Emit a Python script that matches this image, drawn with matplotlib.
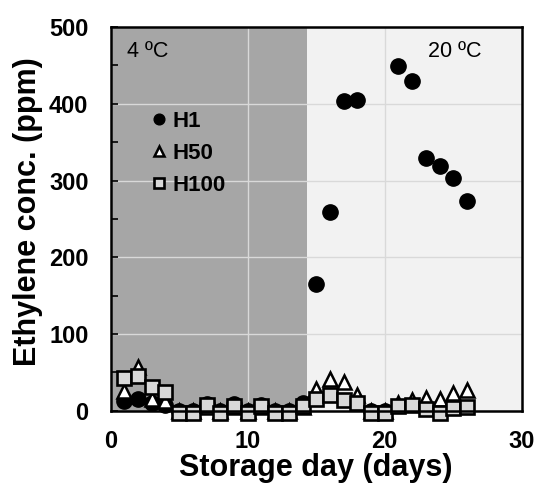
#!/usr/bin/env python
"""Ethylene concentration during storage at 4 and 20 degC for the H1/H50/H100 treatments."""

from __future__ import annotations

import matplotlib

matplotlib.use("Agg")
import matplotlib.pyplot as plt
from matplotlib.ticker import MultipleLocator

# storage day and ethylene concentration (ppm)
days = list(range(1, 27))
h1_ppm = [12, 15, 10, 7, 0, 0, 9, 0, 9, 0, 8, 0, 0, 10,
          165, 259, 403, 405, 0, 0, 449, 430, 329, 319, 303, 273]
h50_ppm = [26, 57, 15, 12, 0, 0, 5, 0, 5, 0, 5, 0, 0, 5,
           28, 41, 37, 21, 0, 0, 10, 14, 16, 15, 23, 27]
h100_ppm = [42, 45, 31, 25, -3, -3, 7, -3, 6, -3, 6, -3, -3, 6,
            15, 20, 14, 10, -3, -3, 6, 7, 2, -3, 3, 5]
series_labels = ["H1", "H50", "H100"]

cold_end_day = 14.3  # switch from 4 degC to 20 degC storage
region_labels = ["4 \u00baC", "20 \u00baC"]

FONT = "Liberation Sans"


def plot_ethylene(out_file: str) -> None:
    plt.rcParams["font.family"] = [FONT, "DejaVu Sans"]
    fig = plt.figure(figsize=(5.36, 4.83), dpi=100)
    ax = fig.add_axes([0.2065, 0.1497, 0.767, 0.7943])

    ax.set_xlim(0, 30)
    ax.set_ylim(0, 500)

    # storage temperature backgrounds
    ax.axvspan(0, cold_end_day, color="#a6a6a6", lw=0, zorder=0)
    ax.axvspan(cold_end_day, 30, color="#f2f2f2", lw=0, zorder=0)
    ax.set_axisbelow(True)
    ax.grid(True, color="#d9d9d9", linewidth=1.0, zorder=0.5)

    ax.plot(days, h1_ppm, linestyle="none", marker="o", markersize=11,
            markerfacecolor="black", markeredgecolor="black",
            label=series_labels[0], clip_on=False, zorder=3)
    ax.plot(days, h50_ppm, linestyle="none", marker="^", markersize=10,
            markerfacecolor="white", markeredgecolor="black", markeredgewidth=1.8,
            label=series_labels[1], clip_on=False, zorder=4)
    ax.plot(days, h100_ppm, linestyle="none", marker="s", markersize=9.5,
            markerfacecolor="#d9d9d9", markeredgecolor="black", markeredgewidth=1.9,
            label=series_labels[2], clip_on=False, zorder=5)

    ax.text(0.04, 0.935, region_labels[0], transform=ax.transAxes,
            fontsize=15.5, ha="left", va="center")
    ax.text(0.902, 0.935, region_labels[1], transform=ax.transAxes,
            fontsize=15.5, ha="right", va="center")

    ax.xaxis.set_major_locator(MultipleLocator(10))
    ax.yaxis.set_major_locator(MultipleLocator(100))
    ax.yaxis.set_minor_locator(MultipleLocator(50))
    ax.tick_params(axis="x", length=0, pad=14, labelsize=17)
    ax.tick_params(axis="y", which="both", direction="in", length=5, width=1.2,
                   pad=16, labelsize=17)
    for lab in ax.get_xticklabels() + ax.get_yticklabels():
        lab.set_fontweight("bold")

    for spine in ax.spines.values():
        spine.set_linewidth(1.8)
        spine.set_zorder(6)

    ax.set_xlabel("Storage day (days)", fontsize=22, fontweight="bold", labelpad=0)
    ax.set_ylabel("Ethylene conc. (ppm)", fontsize=22, fontweight="bold")
    ax.yaxis.set_label_coords(-0.165, 0.52)

    leg = ax.legend(loc="upper left", bbox_to_anchor=(0.072, 0.81), frameon=False,
                    markerscale=0.7, handlelength=0.7, handletextpad=0.25,
                    labelspacing=0.5, borderpad=0.0,
                    prop={"family": FONT, "weight": "bold", "size": 16})
    leg.set_zorder(7)

    fig.savefig(out_file, dpi=100)
    plt.close(fig)


def main() -> int:
    plot_ethylene("out.png")
    return 0


if __name__ == "__main__":
    raise SystemExit(main())
